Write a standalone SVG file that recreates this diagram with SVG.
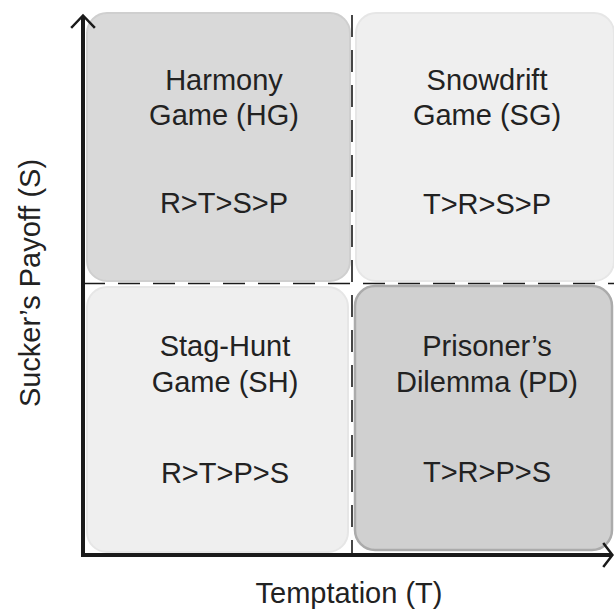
<svg xmlns="http://www.w3.org/2000/svg" width="614" height="612" viewBox="0 0 614 612">
<style>
.lbl{font-family:"Liberation Sans",Arial,Helvetica,sans-serif;font-size:29px;fill:#222;text-anchor:middle}
.ax{stroke:#1a1a1a;stroke-width:4;fill:none}
.head{stroke:#1a1a1a;stroke-width:2.5;fill:none;stroke-linecap:square}
.dash{stroke:#1a1a1a;stroke-width:1.6;stroke-dasharray:22 13;fill:none}
</style>
<rect width="614" height="612" fill="#ffffff"/>
<g id="HG">
<rect x="87" y="13" width="263" height="268" rx="20" fill="#d9d9d9" stroke="#cfcfcf" stroke-width="2"/>
<text class="lbl" x="224" y="90">Harmony</text>
<text class="lbl" x="224" y="125">Game (HG)</text>
<text class="lbl" x="224" y="213">R&gt;T&gt;S&gt;P</text>
</g>
<g id="SG">
<rect x="356" y="13" width="258" height="268" rx="20" fill="#efefef" stroke="#e6e6e6" stroke-width="2"/>
<text class="lbl" x="487" y="90">Snowdrift</text>
<text class="lbl" x="487" y="125">Game (SG)</text>
<text class="lbl" x="487" y="214">T&gt;R&gt;S&gt;P</text>
</g>
<g id="SH">
<rect x="87" y="287" width="261" height="265" rx="20" fill="#efefef" stroke="#e6e6e6" stroke-width="2"/>
<text class="lbl" x="225" y="356">Stag-Hunt</text>
<text class="lbl" x="225" y="391.5">Game (SH)</text>
<text class="lbl" x="225" y="482.5">R&gt;T&gt;P&gt;S</text>
</g>
<g id="PD">
<rect x="355" y="286" width="257" height="264" rx="20" fill="#d0d0d0" stroke="#ababab" stroke-width="2.5"/>
<text class="lbl" x="487" y="356">Prisoner’s</text>
<text class="lbl" x="487" y="391.5">Dilemma (PD)</text>
<text class="lbl" x="487" y="482">T&gt;R&gt;P&gt;S</text>
</g>
<g id="connectors">
<line class="dash" x1="352" y1="15" x2="352" y2="553"/>
<line class="dash" x1="83" y1="283.5" x2="614" y2="283.5"/>
<line class="ax" x1="83" y1="16" x2="83" y2="557"/>
<line class="ax" x1="81" y1="555" x2="611" y2="555"/>
<polyline class="head" points="72,27 83,15.5 94,27"/>
<polyline class="head" points="604,544 612.5,555 604,566"/>
</g>
<g id="axis-labels">
<text class="lbl" x="349" y="603">Temptation (T)</text>
<text class="lbl" transform="translate(40,283) rotate(-90)">Sucker’s Payoff (S)</text>
</g>
</svg>
